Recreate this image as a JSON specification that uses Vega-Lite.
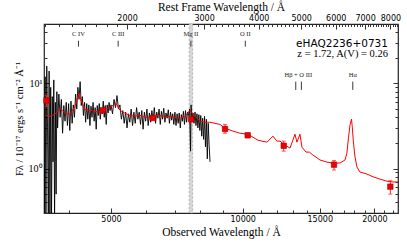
{
  "$schema": "https://vega.github.io/schema/vega-lite/v6.json",
  "width": 354,
  "height": 189,
  "autosize": "none",
  "padding": {"left": 44, "top": 24, "right": 9, "bottom": 29},
  "background": "white",
  "config": {
    "view": {"stroke": "#222222", "strokeWidth": 1.2},
    "axis": {"grid": false, "domain": false, "tickColor": "#333333", "labelColor": "black", "titleColor": "black", "titleFontWeight": "normal"}
  },
  "datasets": {
    "spec": [
      {"wl":3520,"f":0.2},{"wl":3535,"f":12},{"wl":3550,"f":0.25},{"wl":3565,"f":16},{"wl":3580,"f":3},{"wl":3595,"f":0.2},{"wl":3610,"f":14},{"wl":3625,"f":0.3},{"wl":3640,"f":9},{"wl":3655,"f":0.2},{"wl":3670,"f":7},{"wl":3685,"f":1.2},{"wl":3700,"f":11},{"wl":3715,"f":0.25},{"wl":3730,"f":6},{"wl":3745,"f":0.5},{"wl":3760,"f":8},
      {"wl":3775,"f":3.0},{"wl":3800,"f":7.5},{"wl":3825,"f":4.0},{"wl":3850,"f":6.5},{"wl":3875,"f":2.6},{"wl":3900,"f":5.5},{"wl":3925,"f":3.6},{"wl":3950,"f":6.0},{"wl":3975,"f":3.2},{"wl":4000,"f":5.8},{"wl":4025,"f":2.8},{"wl":4050,"f":6.2},{"wl":4075,"f":3.4},{"wl":4100,"f":5.6},{"wl":4125,"f":4.0},{"wl":4150,"f":7.5},{"wl":4175,"f":5.0},{"wl":4200,"f":9.0},{"wl":4225,"f":6.5},{"wl":4250,"f":10.5},{"wl":4275,"f":5.5},{"wl":4300,"f":7.0},{"wl":4325,"f":4.2},{"wl":4350,"f":6.0},{"wl":4375,"f":3.5},{"wl":4400,"f":5.8},{"wl":4425,"f":3.8},{"wl":4450,"f":5.6},{"wl":4475,"f":3.2},{"wl":4500,"f":5.4},
      {"wl":4525,"f":4.0},{"wl":4550,"f":6.0},{"wl":4575,"f":3.6},{"wl":4600,"f":5.2},{"wl":4625,"f":2.9},{"wl":4650,"f":5.5},{"wl":4675,"f":4.2},{"wl":4700,"f":5.8},{"wl":4725,"f":3.8},{"wl":4750,"f":5.0},{"wl":4775,"f":4.4},{"wl":4800,"f":6.2},{"wl":4825,"f":4.0},{"wl":4850,"f":5.5},{"wl":4875,"f":3.3},{"wl":4900,"f":5.6},{"wl":4925,"f":4.5},{"wl":4950,"f":6.0},{"wl":4975,"f":4.8},
      {"wl":5000,"f":5.6},{"wl":5040,"f":4.4},{"wl":5080,"f":6.5},{"wl":5120,"f":5.2},{"wl":5160,"f":7.2},{"wl":5200,"f":5.0},{"wl":5240,"f":5.6},{"wl":5280,"f":3.8},{"wl":5320,"f":4.8},{"wl":5360,"f":3.4},{"wl":5400,"f":4.6},{"wl":5440,"f":3.0},{"wl":5480,"f":4.4},{"wl":5520,"f":3.5},{"wl":5560,"f":5.0},{"wl":5600,"f":3.2},{"wl":5640,"f":4.6},{"wl":5680,"f":3.4},{"wl":5720,"f":5.2},{"wl":5760,"f":3.8},{"wl":5800,"f":4.6},{"wl":5840,"f":3.3},{"wl":5880,"f":4.8},{"wl":5920,"f":2.9},{"wl":5960,"f":4.6},{"wl":6000,"f":3.6},{"wl":6040,"f":5.0},{"wl":6080,"f":3.2},{"wl":6120,"f":4.5},{"wl":6160,"f":3.5},{"wl":6200,"f":4.8},{"wl":6240,"f":3.7},{"wl":6280,"f":5.2},{"wl":6320,"f":3.4},{"wl":6360,"f":4.6},{"wl":6400,"f":3.9},{"wl":6440,"f":5.0},{"wl":6480,"f":3.3},{"wl":6520,"f":4.7},{"wl":6560,"f":3.8},{"wl":6600,"f":5.1},{"wl":6640,"f":3.5},{"wl":6680,"f":4.5},{"wl":6720,"f":3.9},{"wl":6760,"f":4.9},{"wl":6800,"f":3.4},{"wl":6840,"f":4.6},{"wl":6880,"f":3.7},{"wl":6920,"f":4.4},{"wl":6960,"f":3.3},{"wl":7000,"f":4.6},{"wl":7040,"f":3.2},{"wl":7080,"f":4.4},{"wl":7120,"f":3.4},{"wl":7160,"f":4.5},{"wl":7200,"f":3.0},{"wl":7240,"f":4.3},{"wl":7280,"f":3.6},{"wl":7320,"f":4.7},{"wl":7360,"f":3.3},{"wl":7400,"f":4.8},{"wl":7440,"f":3.5},{"wl":7480,"f":4.6},{"wl":7520,"f":4.2},{"wl":7560,"f":5.0},{"wl":7600,"f":1.6},{"wl":7620,"f":5.6},{"wl":7660,"f":3.6},{"wl":7700,"f":4.5},{"wl":7740,"f":3.4},{"wl":7780,"f":4.6},{"wl":7820,"f":3.2},{"wl":7860,"f":4.4},{"wl":7900,"f":3.0},{"wl":7940,"f":4.3},{"wl":7980,"f":2.8},{"wl":8020,"f":4.2},{"wl":8060,"f":2.4},{"wl":8100,"f":3.9},{"wl":8140,"f":2.2},{"wl":8180,"f":4.1},{"wl":8220,"f":1.8},{"wl":8260,"f":3.8},{"wl":8300,"f":1.3},{"wl":8340,"f":3.4},{"wl":8380,"f":1.9},{"wl":8420,"f":1.2}
    ],
    "model": [
      {"wl":3551,"f":4.22},{"wl":3626,"f":4.11},{"wl":3724,"f":4.34},{"wl":3824,"f":5.1},{"wl":3925,"f":4.46},{"wl":4029,"f":4.34},{"wl":4137,"f":5.4},{"wl":4225,"f":7.64},{"wl":4270,"f":6.33},{"wl":4360,"f":4.96},{"wl":4477,"f":4.83},{"wl":4596,"f":4.7},{"wl":4718,"f":4.58},{"wl":4845,"f":4.96},{"wl":4973,"f":5.25},{"wl":5135,"f":5.84},{"wl":5241,"f":4.83},{"wl":5381,"f":4.46},{"wl":5525,"f":4.22},{"wl":5672,"f":4.11},{"wl":5823,"f":4.22},{"wl":5979,"f":4.0},{"wl":6138,"f":4.0},{"wl":6302,"f":4.11},{"wl":6471,"f":4.22},{"wl":6643,"f":4.0},{"wl":6821,"f":4.11},{"wl":7003,"f":4.0},{"wl":7189,"f":3.9},{"wl":7381,"f":4.11},{"wl":7578,"f":4.83},{"wl":7780,"f":4.11},{"wl":7988,"f":3.6},{"wl":8201,"f":3.5},{"wl":8419,"f":3.5},{"wl":8873,"f":3.3},{"wl":9110,"f":2.98},{"wl":9501,"f":2.75},{"wl":9858,"f":2.6},{"wl":10283,"f":2.53},{"wl":10839,"f":2.15},{"wl":11363,"f":2.04},{"wl":11730,"f":2.4},{"wl":11970,"f":2.1},{"wl":12171,"f":2.1},{"wl":12497,"f":1.88},{"wl":12829,"f":1.74},{"wl":13167,"f":2.53},{"wl":13306,"f":2.04},{"wl":13520,"f":2.53},{"wl":13661,"f":1.78},{"wl":13952,"f":1.56},{"wl":14200,"f":1.56},{"wl":14474,"f":1.44},{"wl":15020,"f":1.26},{"wl":15585,"f":1.19},{"wl":16085,"f":1.16},{"wl":16689,"f":1.16},{"wl":17132,"f":1.26},{"wl":17300,"f":1.5},{"wl":17450,"f":2.3},{"wl":17600,"f":3.3},{"wl":17731,"f":3.8},{"wl":17800,"f":3.1},{"wl":17900,"f":2.1},{"wl":18050,"f":1.4},{"wl":18245,"f":1.04},{"wl":18537,"f":0.91},{"wl":19235,"f":0.86},{"wl":19851,"f":0.8},{"wl":20596,"f":0.75},{"wl":21370,"f":0.71},{"wl":22057,"f":0.695},{"wl":22646,"f":0.695}
    ],
    "phot": [
      {"wl":3560,"f":6.3,"lo":5.4,"hi":7.2},
      {"wl":4786,"f":4.83,"lo":4.68,"hi":4.98},
      {"wl":6228,"f":3.93,"lo":3.83,"hi":4.03},
      {"wl":7617,"f":3.79,"lo":3.69,"hi":3.89},
      {"wl":9111,"f":2.92,"lo":2.6,"hi":3.3},
      {"wl":10266,"f":2.46,"lo":2.3,"hi":2.6},
      {"wl":12410,"f":1.85,"lo":1.6,"hi":2.1},
      {"wl":16170,"f":1.11,"lo":0.96,"hi":1.24},
      {"wl":21750,"f":0.612,"lo":0.5,"hi":0.72}
    ],
    "uvlines": [
      {"name":"C IV","wl":4213},{"name":"C III","wl":5192},{"name":"Mg II","wl":7613},{"name":"O II","wl":10138}
    ],
    "nirticks": [{"wl":13222},{"wl":13619},{"wl":17851}],
    "nirlabels": [{"name":"Hβ + O III","wl":13400},{"name":"Hα","wl":17851}]
  },
  "layer": [
    {
      "data": {"values": [{"lo": 7545, "hi": 7685}]},
      "mark": {"type": "rect", "fill": "#d6d6d6", "stroke": "#a8a8a8", "strokeDash": [2, 2], "strokeWidth": 0.8},
      "encoding": {
        "x": {"field": "lo", "type": "quantitative", "scale": {"type": "log", "domain": [3514, 22646]}, "axis": null},
        "x2": {"field": "hi"}
      }
    },
    {
      "data": {"name": "spec"},
      "mark": {"type": "line", "color": "black", "strokeWidth": 0.9, "clip": true},
      "encoding": {
        "x": {"field": "wl", "type": "quantitative", "scale": {"type": "log", "domain": [3514, 22646]}, "axis": null},
        "y": {"field": "f", "type": "quantitative", "scale": {"type": "log", "domain": [0.3, 50]}, "axis": null}
      }
    },
    {
      "data": {"name": "model"},
      "mark": {"type": "line", "color": "#ff0000", "strokeWidth": 1, "clip": true},
      "encoding": {
        "x": {
          "field": "wl", "type": "quantitative",
          "scale": {"type": "log", "domain": [3514, 22646]},
          "axis": {
            "orient": "bottom",
            "values": [4000,5000,6000,7000,8000,9000,10000,11000,12000,13000,14000,15000,16000,17000,18000,19000,20000,21000,22000],
            "labelExpr": "datum.value % 5000 == 0 ? format(datum.value, 'd') : ''",
            "tickSize": {"condition": {"test": "datum.value % 5000 == 0", "value": -5}, "value": -3},
            "labelPadding": 7,
            "labelFont": "DejaVu Sans", "labelFontSize": 8,
            "title": "Observed Wavelength / Å",
            "titleFont": "Liberation Serif", "titleFontSize": 11.5, "titlePadding": 3
          }
        },
        "y": {
          "field": "f", "type": "quantitative",
          "scale": {"type": "log", "domain": [0.3, 50]},
          "axis": {
            "orient": "left",
            "values": [0.3,0.4,0.5,0.6,0.7,0.8,0.9,1,2,3,4,5,6,7,8,9,10,20,30,40,50],
            "labelExpr": "datum.value == 1 ? '10⁰' : (datum.value == 10 ? '10¹' : '')",
            "tickSize": {"condition": {"test": "datum.value == 1 || datum.value == 10", "value": -5}, "value": -3},
            "labelPadding": 7,
            "labelFont": "Liberation Serif", "labelFontSize": 10,
            "title": "Fλ / 10⁻¹⁷ ergs s⁻¹ cm⁻² Å⁻¹",
            "titleFont": "Liberation Serif", "titleFontSize": 10.5, "titlePadding": 4
          }
        }
      }
    },
    {
      "data": {"name": "phot"},
      "mark": {"type": "rule", "color": "#ff2020", "strokeWidth": 1},
      "encoding": {
        "x": {"field": "wl", "type": "quantitative", "scale": {"type": "log", "domain": [3514, 22646]}, "axis": null},
        "y": {"field": "lo", "type": "quantitative", "scale": {"type": "log", "domain": [0.3, 50]}, "axis": null},
        "y2": {"field": "hi"}
      }
    },
    {
      "data": {"name": "phot"},
      "mark": {"type": "tick", "orient": "horizontal", "color": "#ff2020", "size": 4, "thickness": 1},
      "encoding": {
        "x": {"field": "wl", "type": "quantitative", "scale": {"type": "log", "domain": [3514, 22646]}, "axis": null},
        "y": {"field": "lo", "type": "quantitative", "scale": {"type": "log", "domain": [0.3, 50]}, "axis": null}
      }
    },
    {
      "data": {"name": "phot"},
      "mark": {"type": "tick", "orient": "horizontal", "color": "#ff2020", "size": 4, "thickness": 1},
      "encoding": {
        "x": {"field": "wl", "type": "quantitative", "scale": {"type": "log", "domain": [3514, 22646]}, "axis": null},
        "y": {"field": "hi", "type": "quantitative", "scale": {"type": "log", "domain": [0.3, 50]}, "axis": null}
      }
    },
    {
      "data": {"name": "phot"},
      "mark": {"type": "point", "shape": "square", "filled": true, "size": 30, "color": "#ee0000", "stroke": "#aa0000", "strokeWidth": 0.6, "opacity": 1},
      "encoding": {
        "x": {"field": "wl", "type": "quantitative", "scale": {"type": "log", "domain": [3514, 22646]}, "axis": null},
        "y": {"field": "f", "type": "quantitative", "scale": {"type": "log", "domain": [0.3, 50]}, "axis": null}
      }
    },
    {
      "data": {"name": "uvlines"},
      "mark": {"type": "rule", "color": "#222222", "strokeWidth": 0.9},
      "encoding": {
        "x": {"field": "wl", "type": "quantitative", "scale": {"type": "log", "domain": [3514, 22646]}, "axis": null},
        "y": {"datum": 27.1, "scale": {"type": "log", "domain": [0.3, 50]}, "axis": null},
        "y2": {"datum": 31.8}
      }
    },
    {
      "data": {"name": "uvlines"},
      "mark": {"type": "text", "font": "Liberation Serif", "fontSize": 6.5, "color": "#222222", "baseline": "alphabetic", "align": "center"},
      "encoding": {
        "x": {"field": "wl", "type": "quantitative", "scale": {"type": "log", "domain": [3514, 22646]}, "axis": null},
        "y": {"datum": 36.5, "scale": {"type": "log", "domain": [0.3, 50]}, "axis": null},
        "text": {"field": "name"}
      }
    },
    {
      "data": {"name": "nirticks"},
      "mark": {"type": "rule", "color": "#222222", "strokeWidth": 0.9},
      "encoding": {
        "x": {"field": "wl", "type": "quantitative", "scale": {"type": "log", "domain": [3514, 22646]}, "axis": null},
        "y": {"datum": 8.4, "scale": {"type": "log", "domain": [0.3, 50]}, "axis": null},
        "y2": {"datum": 10.5}
      }
    },
    {
      "data": {"name": "nirlabels"},
      "mark": {"type": "text", "font": "Liberation Serif", "fontSize": 6.5, "color": "#222222", "baseline": "alphabetic", "align": "center"},
      "encoding": {
        "x": {"field": "wl", "type": "quantitative", "scale": {"type": "log", "domain": [3514, 22646]}, "axis": null},
        "y": {"datum": 11.9, "scale": {"type": "log", "domain": [0.3, 50]}, "axis": null},
        "text": {"field": "name"}
      }
    },
    {
      "data": {"values": [{"label": "eHAQ2236+0731"}]},
      "mark": {"type": "text", "font": "DejaVu Sans", "fontSize": 10.5, "color": "black", "align": "right", "baseline": "alphabetic"},
      "encoding": {
        "x": {"datum": 21480, "scale": {"type": "log", "domain": [3514, 22646]}, "axis": null},
        "y": {"datum": 27, "scale": {"type": "log", "domain": [0.3, 50]}, "axis": null},
        "text": {"field": "label"}
      }
    },
    {
      "data": {"values": [{"label": "z = 1.72, A(V) = 0.26"}]},
      "mark": {"type": "text", "font": "Liberation Serif", "fontSize": 10.5, "color": "black", "align": "right", "baseline": "alphabetic"},
      "encoding": {
        "x": {"datum": 21480, "scale": {"type": "log", "domain": [3514, 22646]}, "axis": null},
        "y": {"datum": 20.3, "scale": {"type": "log", "domain": [0.3, 50]}, "axis": null},
        "text": {"field": "label"}
      }
    },
    {
      "data": {"values": [{"rest": 2000}]},
      "mark": {"type": "point", "opacity": 0},
      "encoding": {
        "x": {
          "field": "rest", "type": "quantitative",
          "scale": {"type": "log", "domain": [1291.9, 8325.7]},
          "axis": {
            "orient": "top",
            "values": [1300,1400,1500,1600,1700,1800,1900,2000,2100,2200,2300,2400,2500,2600,2700,2800,2900,3000,3100,3200,3300,3400,3500,3600,3700,3800,3900,4000,4100,4200,4300,4400,4500,4600,4700,4800,4900,5000,5100,5200,5300,5400,5500,5600,5700,5800,5900,6000,6100,6200,6300,6400,6500,6600,6700,6800,6900,7000,7100,7200,7300,7400,7500,7600,7700,7800,7900,8000,8100,8200,8300],
            "labelExpr": "datum.value % 1000 == 0 ? format(datum.value, 'd') : ''",
            "tickSize": {"condition": {"test": "datum.value % 1000 == 0", "value": -5}, "value": -2.5},
            "labelPadding": 7,
            "labelFont": "DejaVu Sans", "labelFontSize": 8,
            "title": "Rest Frame Wavelength / Å",
            "titleFont": "Liberation Serif", "titleFontSize": 11.5, "titlePadding": 2
          }
        }
      }
    },
    {
      "data": {"values": [{"v": 1}]},
      "mark": {"type": "point", "opacity": 0},
      "encoding": {
        "y": {
          "field": "v", "type": "quantitative",
          "scale": {"type": "log", "domain": [0.3, 50]},
          "axis": {
            "orient": "right",
            "values": [0.3,0.4,0.5,0.6,0.7,0.8,0.9,1,2,3,4,5,6,7,8,9,10,20,30,40,50],
            "labels": false,
            "tickSize": {"condition": {"test": "datum.value == 1 || datum.value == 10", "value": -5}, "value": -3},
            "title": null
          }
        }
      }
    }
  ],
  "resolve": {"scale": {"x": "independent", "y": "independent"}}
}
